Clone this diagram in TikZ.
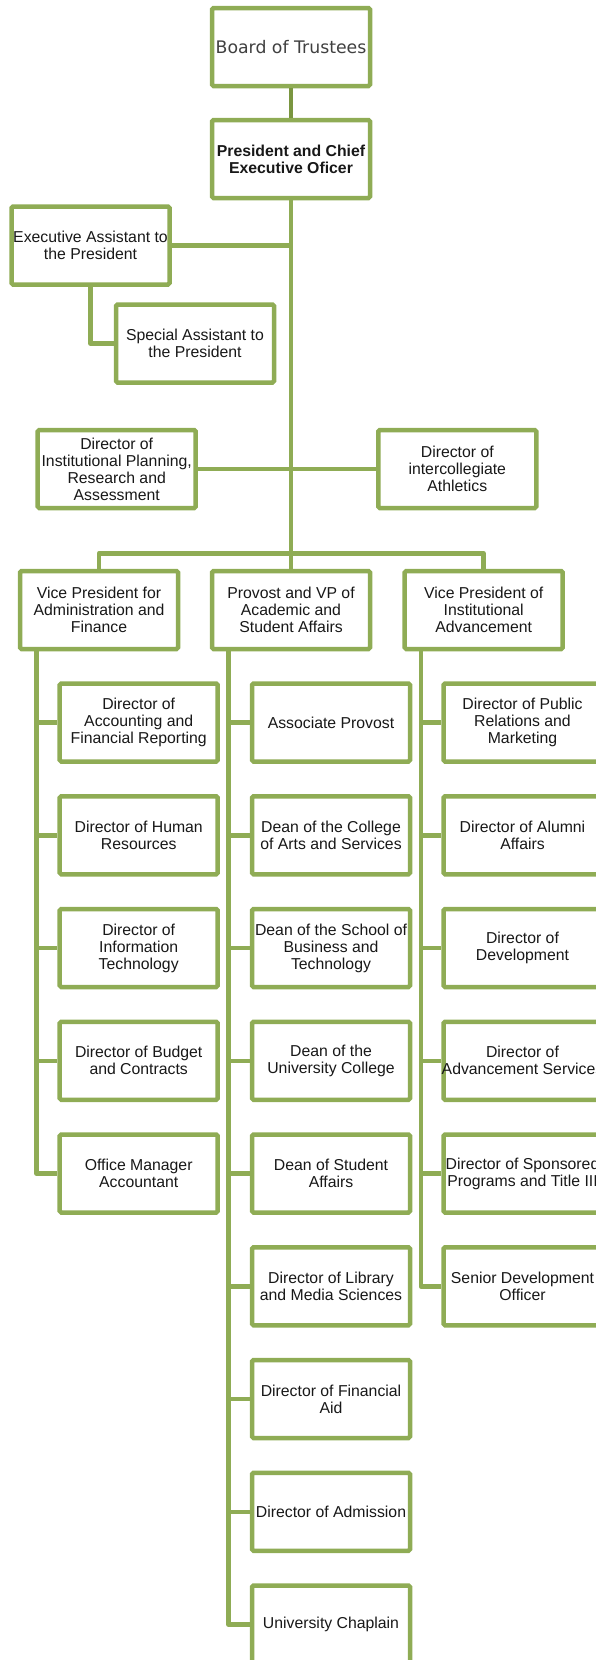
\documentclass[tikz,border=0pt]{standalone}
\usepackage{fontspec}
\setmainfont{Liberation Sans}
\newfontfamily\boardfont{DejaVu Sans}
\usetikzlibrary{positioning}
\definecolor{leaf}{RGB}{143,172,85}
\definecolor{leafdark}{RGB}{122,150,64}
\definecolor{ink}{RGB}{24,24,24}

\begin{document}
\begin{tikzpicture}[
  x=1pt, y=-1pt,
  office/.style={draw=leaf, line width=4.5pt, rounded corners=1.5pt, fill=white,
                 minimum width=158pt, minimum height=78pt, inner sep=0pt, align=center,
                 text=ink, font=\fontsize{15.8}{17}\selectfont},
  head/.style={office, font=\fontsize{15.8}{17}\selectfont\bfseries},
  top/.style={office, text=black!75, font=\fontsize{17.3}{20}\selectfont\boardfont},
  link/.style={draw=leaf, line width=4.5pt, line join=round},
]
\useasboundingbox (0,0) rectangle (596,1660);
\clip (0,0) rectangle (596,1660);

\node[top]    (board) at (291,47)    {Board of Trustees};
\node[head]   (pres)  at (291,159)   {President and Chief\\Executive Oficer};
\node[office] (exec)  at (90.5,245.5) {Executive Assistant to\\the President};
\node[office] (spec)  at (195,343.5) {Special Assistant to\\the President};
\node[office] (ipra)  at (116.7,469) {Director of\\Institutional Planning,\\Research and\\Assessment};
\node[office] (ath)   at (457.3,469) {Director of\\intercollegiate\\Athletics};

\node[office] (vpa)   at (99,610)    {Vice President for\\Administration and\\Finance};
\node[office] (prov)  at (291,610)   {Provost and VP of\\Academic and\\Student Affairs};
\node[office] (vpia)  at (483.7,610) {Vice President of\\Institutional\\Advancement};

\node[office] (a1) at (138.7,722.5)  {Director of\\Accounting and\\Financial Reporting};
\node[office] (a2) at (138.7,835.25) {Director of Human\\Resources};
\node[office] (a3) at (138.7,948)    {Director of\\Information\\Technology};
\node[office] (a4) at (138.7,1060.75) {Director of Budget\\and Contracts};
\node[office] (a5) at (138.7,1173.5) {Office Manager\\Accountant};

\node[office] (p1) at (331,722.5)   {Associate Provost};
\node[office] (p2) at (331,835.25)  {Dean of the College\\of Arts and Services};
\node[office] (p3) at (331,948)     {Dean of the School of\\Business and\\Technology};
\node[office] (p4) at (331,1060.75) {Dean of the\\University College};
\node[office] (p5) at (331,1173.5)  {Dean of Student\\Affairs};
\node[office] (p6) at (331,1286.25) {Director of Library\\and Media Sciences};
\node[office] (p7) at (331,1399)    {Director of Financial\\Aid};
\node[office] (p8) at (331,1511.75) {Director of Admission};
\node[office] (p9) at (331,1624.5)  {University Chaplain};

\node[office] (i1) at (522.5,722.5)   {Director of Public\\Relations and\\Marketing};
\node[office] (i2) at (522.5,835.25)  {Director of Alumni\\Affairs};
\node[office] (i3) at (522.5,948)     {Director of\\Development};
\node[office] (i4) at (522.5,1060.75) {Director of\\\makebox[150pt]{Advancement Services}};
\node[office] (i5) at (522.5,1173.5)  {Director of Sponsored\\Programs and Title III};
\node[office] (i6) at (522.5,1286.25) {Senior Development\\Officer};

\coordinate (bus) at (291,553.3);
\coordinate (vpaT)  at ([xshift=18.5pt]vpa.south west);
\coordinate (provT) at ([xshift=18.5pt]prov.south west);
\coordinate (vpiaT) at ([xshift=18.5pt]vpia.south west);

\draw[link, draw=leafdark] (board.south) -- (pres.north);
\draw[link] (pres.south) -- (prov.north);
\draw[link] (exec.east) -- (exec.east -| pres.south);
\draw[link] (exec.south) |- (spec.west);
\draw[link] (ipra.east) -- (ath.west);
\draw[link] (vpa.north) |- (bus) -| (vpia.north);

\draw[link] (vpaT) |- (a1.west) (vpaT) |- (a2.west) (vpaT) |- (a3.west)
  (vpaT) |- (a4.west) (vpaT) |- (a5.west);
\draw[link] (provT) |- (p1.west) (provT) |- (p2.west) (provT) |- (p3.west)
  (provT) |- (p4.west) (provT) |- (p5.west) (provT) |- (p6.west)
  (provT) |- (p7.west) (provT) |- (p8.west) (provT) |- (p9.west);
\draw[link] (vpiaT) |- (i1.west) (vpiaT) |- (i2.west) (vpiaT) |- (i3.west)
  (vpiaT) |- (i4.west) (vpiaT) |- (i5.west) (vpiaT) |- (i6.west);
\end{tikzpicture}
\end{document}
